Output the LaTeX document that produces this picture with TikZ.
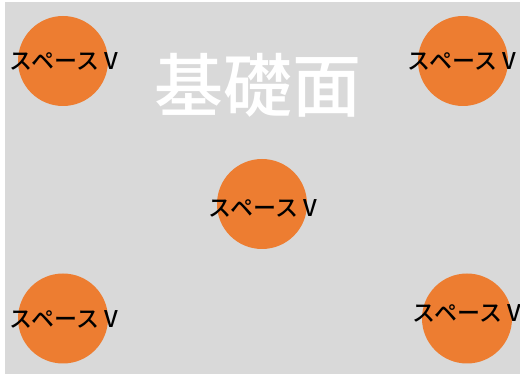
\documentclass[tikz,border=0pt]{standalone}
\usepackage{fontspec}
\newfontfamily\jp{Noto Sans CJK JP Medium}
\definecolor{bggray}{HTML}{D9D9D9}
\definecolor{dotorange}{HTML}{ED7D31}
\begin{document}
\begin{tikzpicture}[x=1pt,y=-1pt,
  spot/.style={circle,fill=dotorange,minimum size=90pt,inner sep=0pt},
  lbl/.style={font=\jp\fontsize{23}{23}\selectfont,text=black,inner sep=0pt}]
\useasboundingbox (0,0) rectangle (520,374);
\fill[bggray] (5,2) rectangle (520,374);
\node[font=\jp\fontsize{69}{69}\selectfont,text=white,inner sep=0pt] (title) at (258,85) {基礎面};
\node[spot] (c1) at (63,61) {};
\node[spot] (c2) at (463,61) {};
\node[spot] (c3) at (262,204) {};
\node[spot] (c4) at (63,318.5) {};
\node[spot] (c5) at (467,318.5) {};
\node[lbl] (t1) at (64,61) {スペース V};
\node[lbl] (t2) at (462,61) {スペース V};
\node[lbl] (t3) at (263,208) {スペース V};
\node[lbl] (t4) at (64,319) {スペース V};
\node[lbl] (t5) at (467,313) {スペース V};
\end{tikzpicture}
\end{document}
